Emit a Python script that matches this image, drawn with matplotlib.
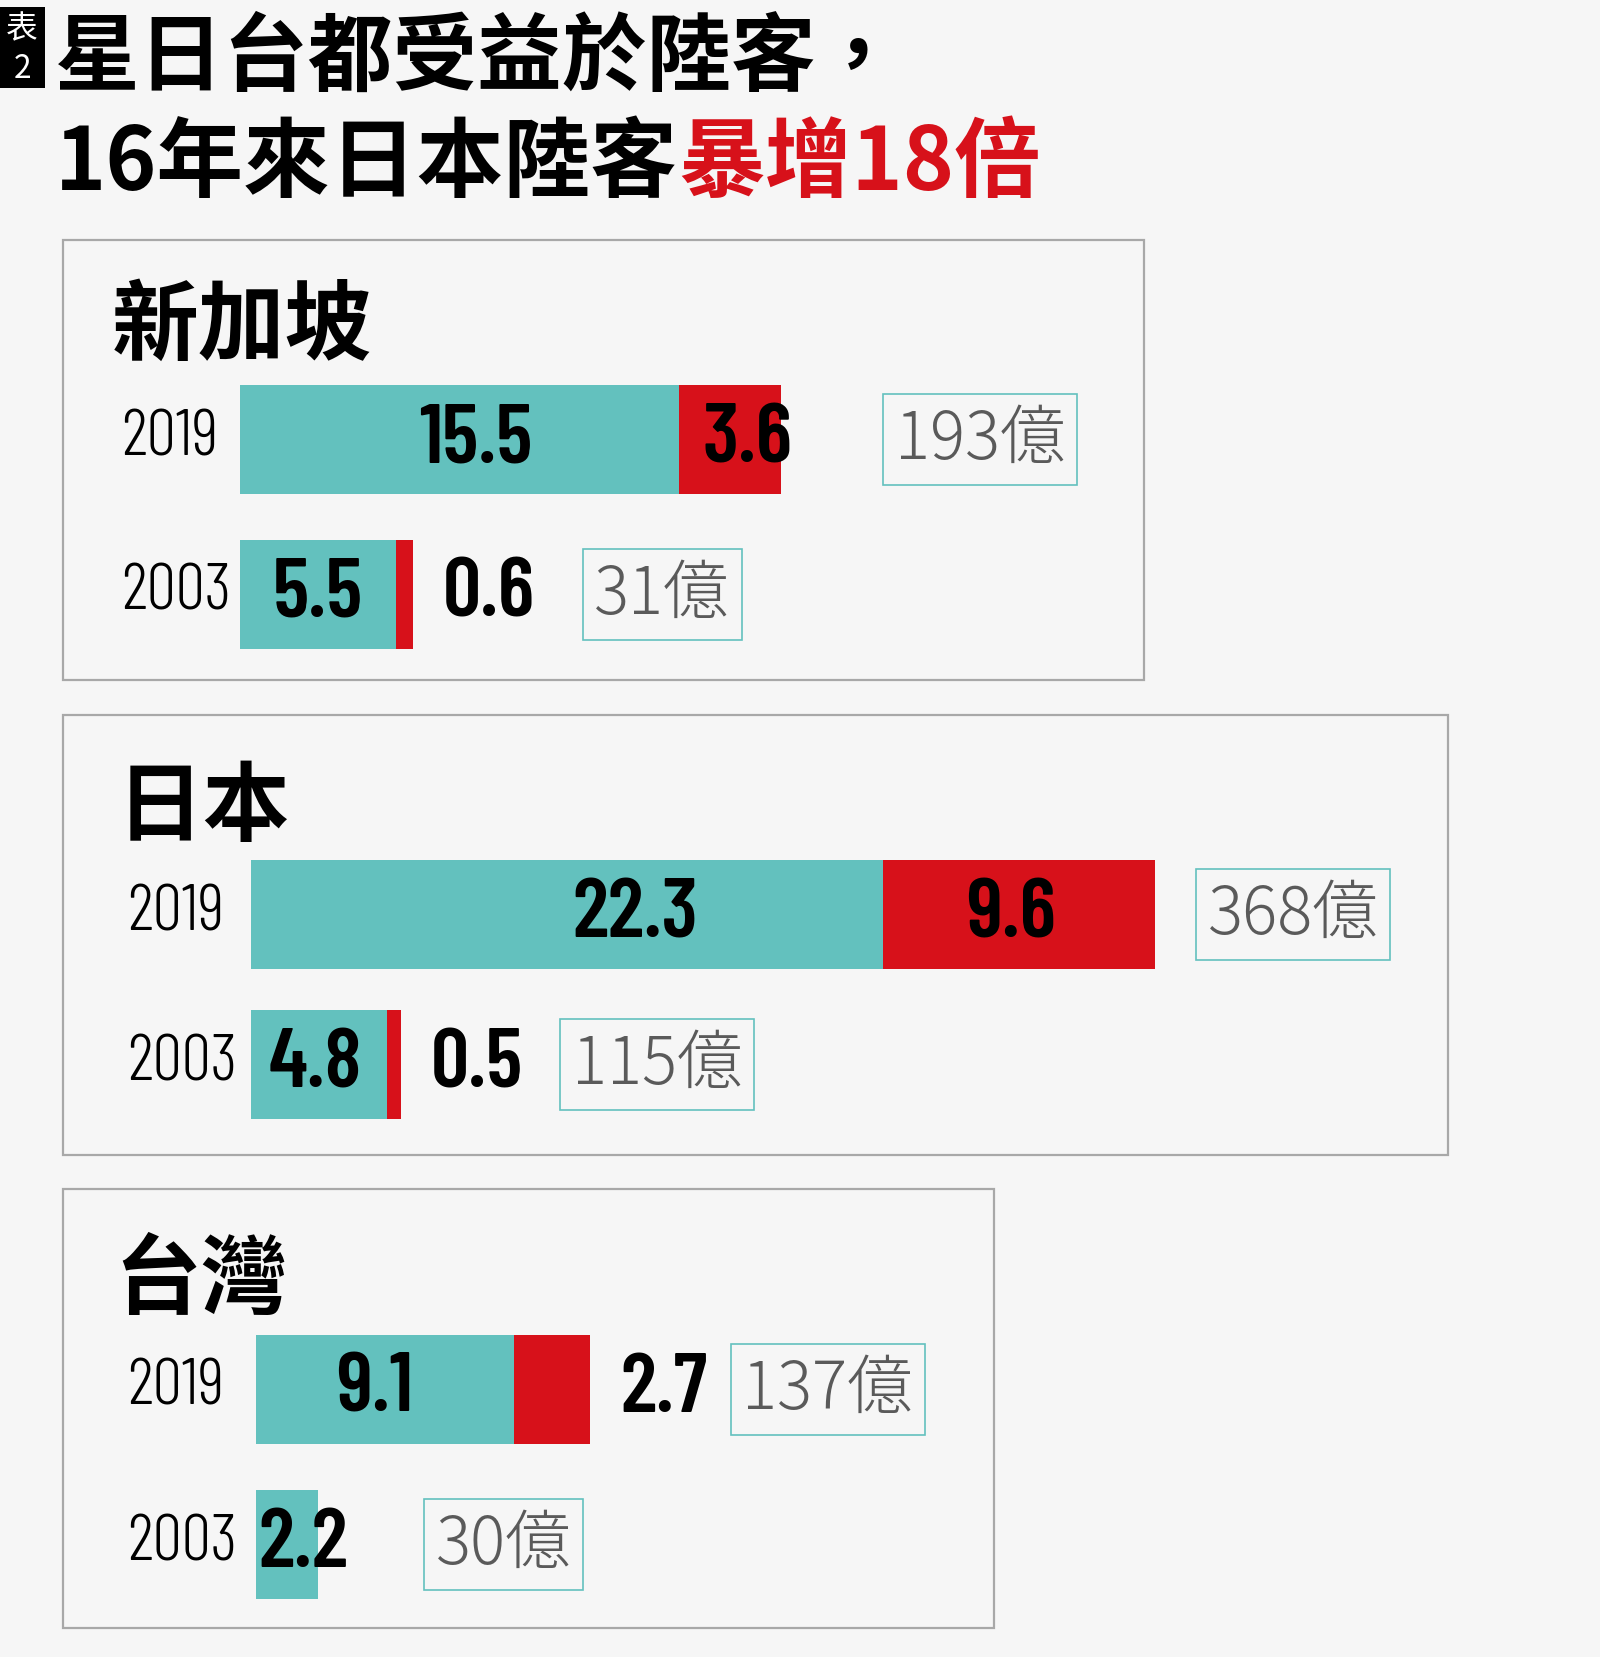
import matplotlib
matplotlib.use('Agg')
import matplotlib.pyplot as plt
from matplotlib.patches import Rectangle

# ---------------- data ----------------
regions = ['新加坡', '日本', '台灣']
years = ['2019', '2003']
others_2019 = [15.5, 22.3, 9.1]     # non-mainland visitors (million)
china_2019 = [3.6, 9.6, 2.7]        # mainland visitors (million)
others_2003 = [5.5, 4.8, 2.2]
china_2003 = [0.6, 0.5, 0.0]
totals_2019 = ['193億', '368億', '137億']
totals_2003 = ['31億', '115億', '30億']
title_line1 = '星日台都受益於陸客，'
title_line2_black = '16年來日本陸客'
title_line2_red = '暴增18倍'
badge_text = ['表', '2']

# ---------------- style ----------------
BG = '#f6f6f6'
TEAL = '#63c1be'
RED = '#d7111a'
BORDER = '#a8a8a8'
GRAY = '#5a5a5a'

W0, H0 = 1513.0, 1568.0          # design units
K = 1600.0 / W0
PT = K * 0.72                    # points per design px
def fs(px):
    return px * PT

CJK = ['Noto Sans CJK TC', 'Noto Sans CJK JP', 'DejaVu Sans']
NUM = ['Barlow Condensed', 'Roboto Condensed', 'Noto Sans CJK JP', 'DejaVu Sans']

fig = plt.figure(figsize=(16, 16.58), dpi=100, facecolor=BG)
ov = fig.add_axes([0, 0, 1, 1])
ov.set_xlim(0, W0)
ov.set_ylim(H0, 0)
ov.axis('off')

# badge
ov.add_patch(Rectangle((0, 8), 43, 76, fc='black', ec='none'))
ov.text(21, 28, badge_text[0], color='white', fontsize=fs(30), family=CJK,
        ha='center', va='center')
ov.text(21, 65, badge_text[1], color='white', fontsize=fs(30), family=CJK,
        ha='center', va='center')

# title
ov.text(52, 55, title_line1, fontsize=fs(80), family=CJK, weight='bold',
        ha='left', va='center', color='black')
t2 = ov.text(52, 156, title_line2_black, fontsize=fs(82), family=CJK, weight='bold',
             ha='left', va='center', color='black')
ov.annotate(title_line2_red, xy=(1, 0), xycoords=t2, fontsize=fs(82), family=CJK,
            weight='bold', ha='left', va='bottom', color=RED)

# layout per panel (design px)
panel_box = [(60, 228, 1082, 644), (60, 677, 1369, 1093), (60, 1125, 940, 1541)]
title_xy = [(106, 310), (110, 765), (108, 1212)]
bar_x0 = [227, 237, 242]
row_cy = [(417, 563), (866, 1008), (1315, 1462)]
year_x = [115, 120, 120]
box_left = [(833, 549), (1129, 528), (689, 399)]
teal_dx = [(15, 0), (65, -3), (-10, 15)]
red_dx = [(16, 0), (-7, 0), (0, 0)]
BAR_H = 103
PXU = 26.8   # design px per million

for i in range(3):
    x0, y0, x1, y1 = panel_box[i]
    ov.add_patch(Rectangle((x0, y0), x1 - x0, y1 - y0, fc='none', ec=BORDER, lw=1.6))
    ov.text(title_xy[i][0], title_xy[i][1], regions[i], fontsize=fs(82), family=CJK,
            weight='bold', ha='left', va='center', color='black')

    c1, c2 = row_cy[i]
    top, bot = c1 - 70, c2 + 70
    bx = bar_x0[i]
    wpx = x1 - bx - 4
    ax = fig.add_axes([bx / W0, 1 - bot / H0, wpx / W0, (bot - top) / H0])
    ax.set_xlim(0, wpx / PXU)
    ax.set_ylim(bot, top)
    ax.axis('off')
    ax.patch.set_alpha(0)

    others = [others_2019[i], others_2003[i]]
    china = [china_2019[i], china_2003[i]]
    totals = [totals_2019[i], totals_2003[i]]
    ys = [c1, c2]
    ax.barh(ys, others, height=BAR_H, color=TEAL, lw=0)
    ax.barh(ys, china, left=others, height=BAR_H, color=RED, lw=0)

    for j in range(2):
        y = ys[j]
        ov.text(year_x[i], y - 2, years[j], fontsize=fs(62), family=NUM, weight=300,
                ha='left', va='center', color='black')
        ax.annotate(f'{others[j]:.1f}', xy=(others[j] / 2, y),
                    xytext=(teal_dx[i][j] * PT, 0), textcoords='offset points',
                    fontsize=fs(80), family=NUM, weight='semibold',
                    ha='center', va='center', color='black')
        if china[j] > 0:
            if china[j] >= 3:
                ax.annotate(f'{china[j]:.1f}', xy=(others[j] + china[j] / 2, y),
                            xytext=(red_dx[i][j] * PT, 0), textcoords='offset points',
                            fontsize=fs(80), family=NUM, weight='semibold',
                            ha='center', va='center', color='black')
            else:
                ax.annotate(f'{china[j]:.1f}', xy=(others[j] + china[j], y),
                            xytext=(28 * PT, 0), textcoords='offset points',
                            fontsize=fs(80), family=NUM, weight='semibold',
                            ha='left', va='center', color='black')
        ov.text(box_left[i][j] + 13, y, totals[j], fontsize=fs(62),
                family=['Noto Sans CJK JP', 'DejaVu Sans'], weight=300,
                ha='left', va='center', color=GRAY,
                bbox=dict(boxstyle='square,pad=0.18', fc='none', ec=TEAL, lw=1.2))

fig.savefig('out.png', dpi=100, facecolor=BG)
